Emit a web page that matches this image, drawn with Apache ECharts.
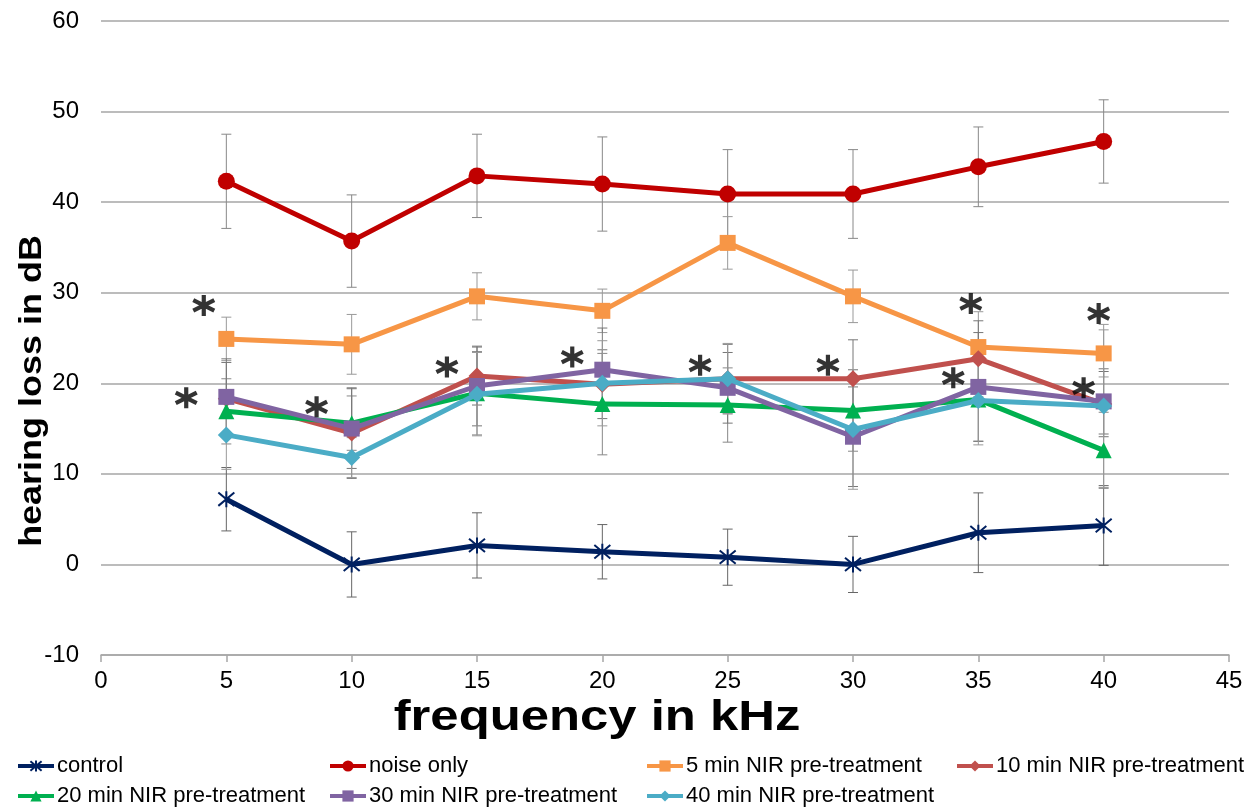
<!DOCTYPE html>
<html><head><meta charset="utf-8">
<script src="https://cdn.jsdelivr.net/npm/echarts@6/dist/echarts.min.js"></script>
<style>html,body{margin:0;padding:0;background:#fff}#c{width:1255px;height:808px}</style>
</head><body><div id="c"></div>
<script>
const freqs = [5, 10, 15, 20, 25, 30, 35, 40];
const seriesNames = ['control', 'noise only', '5 min NIR pre-treatment', '10 min NIR pre-treatment',
  '20 min NIR pre-treatment', '30 min NIR pre-treatment', '40 min NIR pre-treatment'];
const control = [7.2, 0, 2.1, 1.4, 0.8, 0, 3.5, 4.3];
const noiseOnly = [42.3, 35.7, 42.9, 42.0, 40.9, 40.9, 43.9, 46.7];
const nir5 = [24.9, 24.3, 29.6, 28.0, 35.5, 29.6, 24.0, 23.3];
const nir10 = [18.3, 14.5, 20.8, 19.9, 20.5, 20.5, 22.7, 17.7];
const nir20 = [16.9, 15.6, 18.9, 17.7, 17.6, 17.0, 18.2, 12.6];
const nir30 = [18.5, 15.0, 19.7, 21.5, 19.5, 14.1, 19.6, 18.0];
const nir40 = [14.3, 11.8, 18.8, 20.0, 20.5, 14.9, 18.1, 17.5];
const controlErr = [3.5, 3.6, 3.6, 3.0, 3.1, 3.1, 4.4, 4.4];
const noiseErr = [5.2, 5.1, 4.6, 5.2, 4.9, 4.9, 4.4, 4.6];
const nir5Err = [2.4, 3.3, 2.6, 2.4, 2.9, 2.9, 3.9, 2.6];
const nir10Err = [4.0, 5.0, 3.2, 3.8, 3.8, 4.3, 4.2, 3.6];
const nir20Err = [3.6, 3.0, 4.6, 5.6, 4.1, 4.5, 4.6, 4.2];
const nir30Err = [4.2, 4.4, 4.4, 4.6, 3.9, 5.5, 6.0, 3.6];
const nir40Err = [3.8, 2.2, 4.6, 4.7, 3.9, 6.6, 4.9, 9.0];
const starX = [4.1, 3.4, 8.6, 13.8, 18.8, 23.9, 29.0, 34.7, 34.0, 39.8, 39.2];
const starY = [28.6, 18.4, 17.4, 21.8, 22.9, 22.0, 22.0, 28.8, 20.6, 27.7, 19.5];
const yTicks = [-10, 0, 10, 20, 30, 40, 50, 60];
const xTicks = [0, 5, 10, 15, 20, 25, 30, 35, 40, 45];

const values = [control, noiseOnly, nir5, nir10, nir20, nir30, nir40];
const errors = [controlErr, noiseErr, nir5Err, nir10Err, nir20Err, nir30Err, nir40Err];
const colors = ['#002060', '#C00000', '#F79646', '#C0504D', '#00B050', '#8064A2', '#4BACC6'];
const errColors = ['#666', '#888', '#999', '#777', '#888', '#777', '#999'];
const diamond = 'path://M5,0L10,5L5,10L0,5Z';
const starSym = 'path://M0,0L10,10M10,0L0,10M5,-1L5,11';
const asterisk = 'path://M10,0L10,20M1.34,5L18.66,15M1.34,15L18.66,5';
const symbols = [starSym, 'circle', 'rect', diamond, 'triangle', 'rect', diamond];
const symSizes = [16, 17, 16, 17, 16, 16, 17];
const FONT = '"Liberation Sans", Arial, sans-serif';

const series = [];
values.forEach((vals, i) => {
  series.push({
    type: 'custom',
    name: seriesNames[i] + ' err',
    z: 1,
    silent: true,
    data: freqs.map((f, k) => [f, vals[k], errors[i][k]]),
    renderItem: (params, api) => {
      const x = api.value(0), y = api.value(1), e = api.value(2);
      const top = api.coord([x, y + e]);
      const bot = api.coord([x, y - e]);
      const style = { stroke: errColors[i], lineWidth: 1 };
      return {
        type: 'group',
        children: [
          { type: 'line', shape: { x1: top[0], y1: top[1], x2: bot[0], y2: bot[1] }, style },
          { type: 'line', shape: { x1: top[0] - 5, y1: top[1], x2: top[0] + 5, y2: top[1] }, style },
          { type: 'line', shape: { x1: bot[0] - 5, y1: bot[1], x2: bot[0] + 5, y2: bot[1] }, style }
        ]
      };
    }
  });
});
values.forEach((vals, i) => {
  const isStar = i === 0;
  series.push({
    type: 'line',
    name: seriesNames[i],
    z: 3 + i,
    data: freqs.map((f, k) => [f, vals[k]]),
    symbol: symbols[i],
    symbolSize: symSizes[i],
    showAllSymbol: true,
    lineStyle: { color: colors[i], width: 5 },
    itemStyle: isStar
      ? { color: 'none', borderColor: colors[i], borderWidth: 2 }
      : { color: colors[i], borderColor: colors[i], borderWidth: 0 },
    emphasis: { disabled: true },
    animation: false
  });
});
series.push({
  type: 'scatter',
  name: 'stars',
  z: 20,
  symbol: asterisk,
  symbolSize: 21,
  itemStyle: { color: 'none', borderColor: '#000', borderWidth: 4.2 },
  emphasis: { disabled: true },
  data: starX.map((x, k) => [x, starY[k]]),
  animation: false
});

const legendPos = [[16, 755], [328, 755], [645, 755], [955, 755], [16, 785], [328, 785], [645, 785]];
const legends = seriesNames.map((n, i) => ({
  data: [n],
  left: legendPos[i][0], top: legendPos[i][1],
  itemWidth: 36, itemHeight: 14, padding: 0, itemGap: 0,
  selectedMode: false,
  lineStyle: { width: 4 },
  textStyle: { fontSize: 22, color: '#000', fontFamily: FONT, padding: [0, 0, 0, -2] }
}));

const chart = echarts.init(document.getElementById('c'), null, { renderer: 'canvas' });
chart.setOption({
  animation: false,
  backgroundColor: '#fff',
  grid: { left: 101, right: 26, top: 21, bottom: 153, containLabel: false },
  legend: legends,
  xAxis: {
    type: 'value', min: xTicks[0], max: xTicks[xTicks.length - 1], interval: 5,
    axisLine: { show: true, onZero: false, lineStyle: { color: '#a6a6a6', width: 1.5 } },
    axisTick: { show: true, inside: false, length: 7, lineStyle: { color: '#a6a6a6', width: 1.5 } },
    splitLine: { show: false },
    axisLabel: { fontSize: 24, color: '#000', margin: 14, fontFamily: FONT }
  },
  yAxis: {
    type: 'value', min: yTicks[0], max: yTicks[yTicks.length - 1], interval: 10,
    axisLine: { show: false },
    axisTick: { show: false },
    splitLine: { show: true, lineStyle: { color: '#a6a6a6', width: 1.5 } },
    axisLabel: { fontSize: 24, color: '#000', margin: 22, fontFamily: FONT }
  },
  graphic: [
    { type: 'text', x: 597, y: 718, scaleX: 1.21, style: { text: 'frequency in kHz', fontSize: 42, fontWeight: 'bold', fill: '#000', fontFamily: FONT, x: 0, y: 0, align: 'center', verticalAlign: 'middle' } },
    { type: 'text', rotation: Math.PI / 2, x: 32, y: 391, scaleX: 1.16, style: { text: 'hearing loss in dB', fontSize: 31, fontWeight: 'bold', fill: '#000', fontFamily: FONT, x: 0, y: 0, align: 'center', verticalAlign: 'middle' } }
  ],
  series
});
</script></body></html>
